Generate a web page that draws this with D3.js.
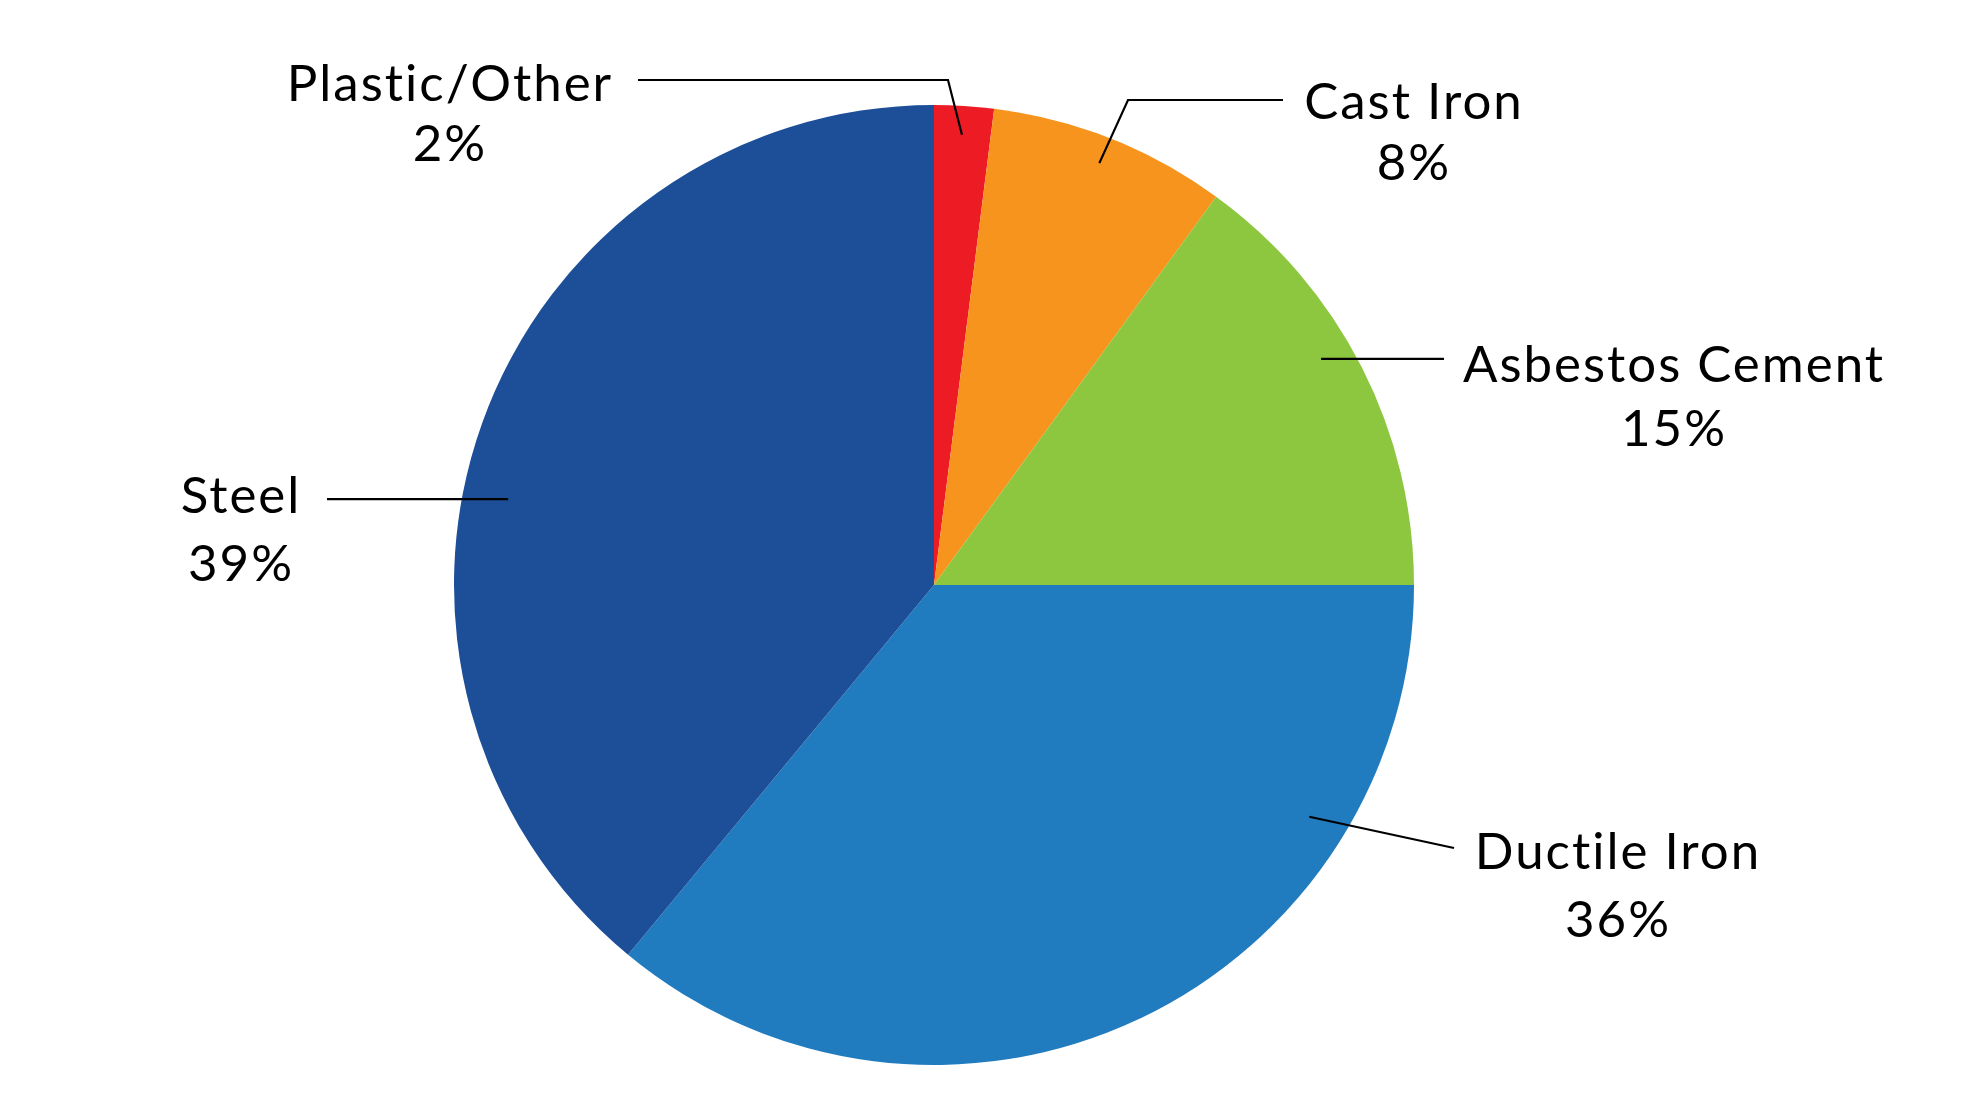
<!DOCTYPE html>
<html>
<head>
<meta charset="utf-8">
<title>Pipe material</title>
<script src="https://cdn.jsdelivr.net/npm/d3@7/dist/d3.min.js"></script>
<style>
    html, body { margin: 0; padding: 0; background: #fff; }
    svg { display: block; }
    .label { font-family: Lato, "Open Sans", sans-serif; font-size: 51px; letter-spacing: 2px; fill: #000; }
    .leader { fill: none; stroke: #000; stroke-width: 2.2px; }
</style>
</head>
<body>
<div id="chart"></div>
<script>

// data
var materials = ['Plastic/Other', 'Cast Iron', 'Asbestos Cement', 'Ductile Iron', 'Steel'];
var shares = [2, 8, 15, 36, 39];
var colors = ['#ED1C24', '#F7941E', '#8DC63F', '#217BBF', '#1D4E98'];

var width = 1984;
var height = 1116;

// pie geometry
var cx = 934;
var cy = 585;
var radius = 480;

// label placement, one entry per material (hand placed like the original)
var labelPos = [
    {x: 450, y: 101, gap: 60},
    {x: 1414, y: 119, gap: 61},
    {x: 1674, y: 382, gap: 64},
    {x: 1618, y: 869, gap: 68},
    {x: 241, y: 513, gap: 68}
];

// leaders: start on the slice (angle in deg, share of radius), then the path to the label
var leaders = [
    {a: 3.55, k: 0.94, pts: [[948, 80], [638, 80]]},
    {a: 21.4, k: 0.944, pts: [[1128, 100], [1283, 100]]},
    {a: 59.7, k: 0.934, pts: [[1444, 'same']]},
    {a: 121.7, k: 0.919, pts: [[1454, 848]]},
    {a: 281.4, k: 0.905, pts: [[327, 'same']]}
];

var svg = d3.select('#chart')
    .append('svg')
    .attr('width', width)
    .attr('height', height);

var drawPie = function(){

    var pie = d3.pie().sort(null).value(function(d){ return d; });
    var arc = d3.arc().innerRadius(0).outerRadius(radius);

    var g = svg.append('g')
        .attr('transform', 'translate(' + cx + ',' + cy + ')');

    g.selectAll('path')
        .data(pie(shares))
        .enter()
        .append('path')
        .attr('d', arc)
        .attr('fill', function(d, i){ return colors[i]; });
};

var drawLeaders = function(){

    var polar = function(deg, k){
        var t = deg * Math.PI / 180;
        return [cx + Math.sin(t) * radius * k, cy - Math.cos(t) * radius * k];
    };

    var line = d3.line();

    var paths = leaders.map(function(l){
        var start = polar(l.a, l.k);
        var pts = [start];
        l.pts.forEach(function(p){
            pts.push([p[0], p[1] === 'same' ? start[1] : p[1]]);
        });
        return pts;
    });

    svg.selectAll('.leader')
        .data(paths)
        .enter()
        .append('path')
        .attr('class', 'leader')
        .attr('d', line);
};

var drawLabels = function(){

    var lbl = svg.selectAll('.label')
        .data(materials)
        .enter()
        .append('text')
        .attr('class', 'label')
        .attr('text-anchor', 'middle');

    lbl.append('tspan')
        .attr('x', function(d, i){ return labelPos[i].x; })
        .attr('y', function(d, i){ return labelPos[i].y; })
        .text(function(d){ return d; });

    lbl.append('tspan')
        .attr('x', function(d, i){ return labelPos[i].x; })
        .attr('y', function(d, i){ return labelPos[i].y + labelPos[i].gap; })
        .text(function(d, i){ return shares[i] + '%'; });
};

drawPie();
drawLeaders();
drawLabels();

</script>
</body>
</html>
